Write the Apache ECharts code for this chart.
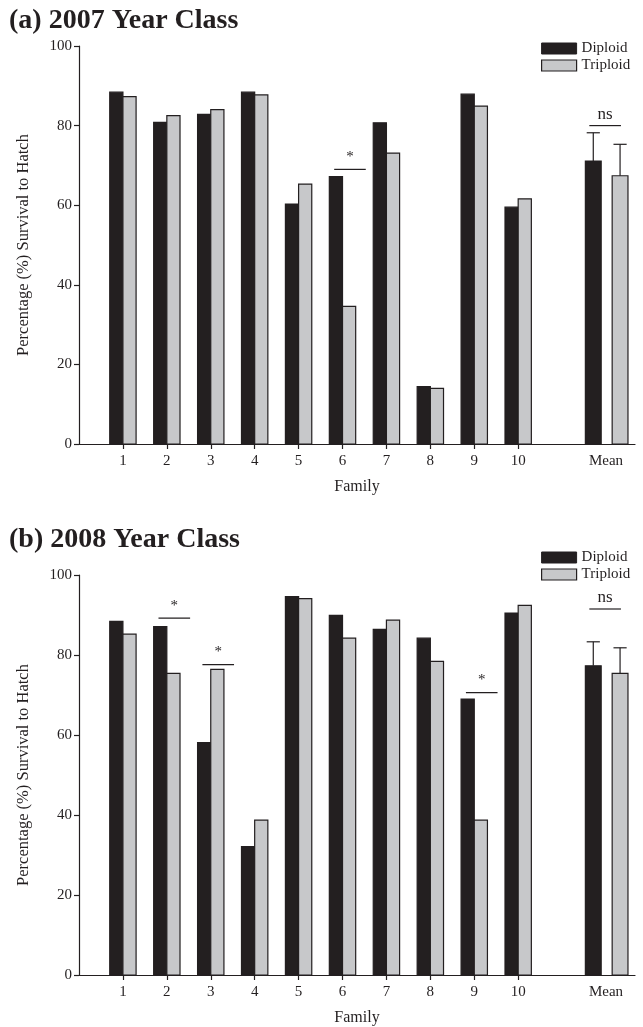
<!DOCTYPE html>
<html>
<head>
<meta charset="utf-8">
<script src="https://cdn.jsdelivr.net/npm/echarts@6/dist/echarts.min.js"></script>
<style>
  html, body { margin: 0; padding: 0; background: #ffffff; }
  #chart { width: 643px; height: 1027px; }
</style>
</head>
<body>
<div id="chart"></div>
<script>
// Survival to hatch (%) per family, diploid vs triploid, with the overall mean last
const categories = ['1', '2', '3', '4', '5', '6', '7', '8', '9', '10', 'Mean'];

const diploid2007  = [88.4, 80.8, 82.8, 88.4, 60.3, 67.2, 80.7, 14.4, 87.9, 59.5, 71.1];
const triploid2007 = [87.3, 82.5, 84.0, 87.7, 65.3, 34.6, 73.1, 14.0, 84.9, 61.6, 67.4];
const meanError2007 = [7.1, 7.9];   // diploid, triploid (upper bar only)

const diploid2008  = [88.4, 87.1, 58.1, 32.1, 94.6, 89.9, 86.4, 84.2, 69.0, 90.5, 77.3];
const triploid2008 = [85.2, 75.4, 76.4, 38.7, 94.1, 84.2, 88.7, 78.4, 38.7, 92.4, 75.4];
const meanError2008 = [6.0, 6.4];

// significance marks: [category, bracket height, text]
const sig2007 = [['6', 69.0, '*'], ['Mean', 80.0, 'ns']];
const sig2008 = [['2', 89.2, '*'], ['3', 77.6, '*'], ['9', 70.6, '*'], ['Mean', 91.5, 'ns']];

const titles = ['(a) 2007 Year Class', '(b) 2008 Year Class'];

const INK = '#231f20';
const GREY = '#c7c8ca';
const FONT = 'Liberation Serif';

// families sit at 1..10 on the axis, the mean is set apart at 12
const pos = (i) => (categories[i] === 'Mean' ? 12 : i + 1);
const catPos = (c) => pos(categories.indexOf(c));
const tickPositions = categories.filter(c => c !== 'Mean').map(c => catPos(c));
const labelPositions = categories.map(c => catPos(c));
const labelFor = (v) => {
  const i = labelPositions.indexOf(Math.round(v));
  return i >= 0 ? categories[i] : '';
};

function barSeries(name, values, panel, side, fill) {
  return {
    type: 'custom',
    name: name,
    xAxisIndex: panel,
    yAxisIndex: panel,
    data: values.map((v, i) => [pos(i), v]),
    encode: { x: 0, y: 1 },
    renderItem(params, api) {
      const x = api.value(0), y = api.value(1);
      const isMean = categories[params.dataIndex] === 'Mean';
      let x0, x1;
      if (isMean) {
        x0 = side < 0 ? x - 0.47 : x + 0.14;
        x1 = side < 0 ? x - 0.11 : x + 0.50;
      } else {
        x0 = side < 0 ? x - 0.30 : x;
        x1 = side < 0 ? x : x + 0.30;
      }
      const p0 = api.coord([x0, y]);
      const p1 = api.coord([x1, 0]);
      return {
        type: 'rect',
        shape: { x: p0[0], y: p0[1], width: p1[0] - p0[0], height: p1[1] - p0[1] },
        style: { fill: fill, stroke: INK, lineWidth: 1.2 }
      };
    }
  };
}

function errorSeries(dip, tri, err, panel) {
  const n = categories.length - 1;
  const data = [[pos(n), dip[n], err[0], -1], [pos(n), tri[n], err[1], 1]];
  return {
    type: 'custom',
    xAxisIndex: panel,
    yAxisIndex: panel,
    silent: true,
    data: data,
    encode: { x: 0, y: 1 },
    renderItem(params, api) {
      const x = api.value(0), y = api.value(1), e = api.value(2), side = api.value(3);
      const cx = side < 0 ? x - 0.29 : x + 0.32;
      const base = api.coord([cx, y]);
      const top = api.coord([cx, y + e]);
      const capL = api.coord([cx - 0.15, y + e]);
      const capR = api.coord([cx + 0.15, y + e]);
      const st = { stroke: INK, lineWidth: 1.2 };
      return {
        type: 'group',
        children: [
          { type: 'line', shape: { x1: base[0], y1: base[1], x2: top[0], y2: top[1] }, style: st },
          { type: 'line', shape: { x1: capL[0], y1: capL[1], x2: capR[0], y2: capR[1] }, style: st }
        ]
      };
    }
  };
}

function sigSeries(marks, panel) {
  return {
    type: 'custom',
    xAxisIndex: panel,
    yAxisIndex: panel,
    silent: true,
    data: marks.map(m => [catPos(m[0]), m[1]]),
    encode: { x: 0, y: 1 },
    renderItem(params, api) {
      const m = marks[params.dataIndex];
      const isMean = m[0] === 'Mean';
      const cx = api.value(0) + (isMean ? -0.02 : 0.17);
      const y = api.value(1);
      const a = api.coord([cx - 0.36, y]);
      const b = api.coord([cx + 0.36, y]);
      const c = api.coord([cx, y]);
      return {
        type: 'group',
        children: [
          { type: 'line', shape: { x1: a[0], y1: a[1], x2: b[0], y2: b[1] }, style: { stroke: INK, lineWidth: 1.2 } },
          {
            type: 'text',
            style: {
              text: m[2], x: c[0], y: isMean ? c[1] - 3 : c[1] - 5,
              align: 'center', verticalAlign: 'bottom',
              font: (isMean ? '17px ' : '15px ') + FONT, fill: INK
            }
          }
        ]
      };
    }
  };
}

const grids = [
  { left: 79, top: 46, width: 556, height: 398 },
  { left: 79, top: 575, width: 556, height: 400 }
];

const textStyle = { fontFamily: FONT, fontSize: 15, color: INK };

const xAxes = grids.map((g, i) => ({
  type: 'value', gridIndex: i, min: 0, max: 12.66,
  axisLine: { show: true, onZero: false, lineStyle: { color: INK, width: 1.2 } },
  axisTick: { show: true, customValues: tickPositions, length: 5, lineStyle: { color: INK, width: 1.2 } },
  axisLabel: { customValues: labelPositions, formatter: labelFor, margin: 10, ...textStyle },
  splitLine: { show: false },
  name: 'Family', nameLocation: 'middle', nameGap: 35,
  nameTextStyle: { fontFamily: FONT, fontSize: 16, color: INK }
}));

const yAxes = grids.map((g, i) => ({
  type: 'value', gridIndex: i, min: 0, max: 100, interval: 20,
  axisLine: { show: true, lineStyle: { color: INK, width: 1.2 } },
  axisTick: { show: true, length: 5, lineStyle: { color: INK, width: 1.2 } },
  axisLabel: { margin: 7, ...textStyle },
  splitLine: { show: false },
  name: 'Percentage (%) Survival to Hatch', nameLocation: 'middle', nameGap: 47,
  nameTextStyle: { fontFamily: FONT, fontSize: 16.5, color: INK }
}));

const legendItems = [
  { name: 'Diploid', itemStyle: { color: INK, borderColor: INK, borderWidth: 1 } },
  { name: 'Triploid', itemStyle: { color: GREY, borderColor: INK, borderWidth: 1.2 } }
];

const legendBase = {
  data: legendItems, orient: 'vertical', left: 536, itemWidth: 35, itemHeight: 11,
  itemGap: 2, selectedMode: false, textStyle: textStyle, icon: 'rect'
};

const titleStyle = { fontFamily: FONT, fontWeight: 'bold', fontSize: 28, color: INK };

const option = {
  animation: false,
  backgroundColor: '#ffffff',
  title: [
    { text: titles[0], left: 9, top: 7, padding: 0, textStyle: titleStyle },
    { text: titles[1], left: 9, top: 526, padding: 0, textStyle: titleStyle }
  ],
  legend: [
    Object.assign({ top: 36 }, legendBase),
    Object.assign({ top: 545 }, legendBase)
  ],
  grid: grids,
  xAxis: xAxes,
  yAxis: yAxes,
  series: [
    barSeries('Diploid', diploid2007, 0, -1, INK),
    barSeries('Triploid', triploid2007, 0, 1, GREY),
    errorSeries(diploid2007, triploid2007, meanError2007, 0),
    sigSeries(sig2007, 0),
    barSeries('Diploid', diploid2008, 1, -1, INK),
    barSeries('Triploid', triploid2008, 1, 1, GREY),
    errorSeries(diploid2008, triploid2008, meanError2008, 1),
    sigSeries(sig2008, 1)
  ]
};

const chart = echarts.init(document.getElementById('chart'), null, { renderer: 'canvas' });
chart.setOption(option);
</script>
</body>
</html>
